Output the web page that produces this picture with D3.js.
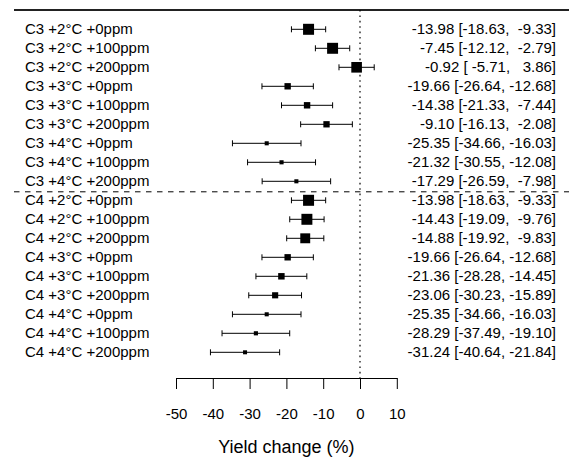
<!DOCTYPE html>
<html>
<head>
<meta charset="utf-8">
<script src="https://cdn.jsdelivr.net/npm/d3@7"></script>
<style>
  html, body { margin: 0; padding: 0; background: #fff; }
  svg { display: block; font-family: "Liberation Sans", Arial, sans-serif; }
  text { white-space: pre; }
</style>
</head>
<body>
<div id="chart"></div>
<script>
const labels = [
  "C3 +2°C +0ppm", "C3 +2°C +100ppm", "C3 +2°C +200ppm",
  "C3 +3°C +0ppm", "C3 +3°C +100ppm", "C3 +3°C +200ppm",
  "C3 +4°C +0ppm", "C3 +4°C +100ppm", "C3 +4°C +200ppm",
  "C4 +2°C +0ppm", "C4 +2°C +100ppm", "C4 +2°C +200ppm",
  "C4 +3°C +0ppm", "C4 +3°C +100ppm", "C4 +3°C +200ppm",
  "C4 +4°C +0ppm", "C4 +4°C +100ppm", "C4 +4°C +200ppm"
];
const estimates = [
  -13.98, -7.45, -0.92, -19.66, -14.38, -9.10, -25.35, -21.32, -17.29,
  -13.98, -14.43, -14.88, -19.66, -21.36, -23.06, -25.35, -28.29, -31.24
];
const lower = [
  -18.63, -12.12, -5.71, -26.64, -21.33, -16.13, -34.66, -30.55, -26.59,
  -18.63, -19.09, -19.92, -26.64, -28.28, -30.23, -34.66, -37.49, -40.64
];
const upper = [
  -9.33, -2.79, 3.86, -12.68, -7.44, -2.08, -16.03, -12.08, -7.98,
  -9.33, -9.76, -9.83, -12.68, -14.45, -15.89, -16.03, -19.10, -21.84
];
const xTicks = [-50, -40, -30, -20, -10, 0, 10];
const xTitle = "Yield change (%)";
const groupBreakAfter = 8; // index of last C3 row

const W = 569, H = 458;
const svg = d3.select("#chart").append("svg").attr("width", W).attr("height", H);

const x = d3.scaleLinear().domain([-50, 10]).range([176, 396.8]);
const y = d3.scalePoint().domain(labels).range([29.3, 352.3]);

const data = labels.map((l, i) => ({ label: l, est: estimates[i], lo: lower[i], hi: upper[i] }));
const prec = data.map(d => 1 / (d.hi - d.lo));
const size = d3.scaleLinear().domain(d3.extent(prec)).range([4, 11]);

const fs = 15;

// top line
svg.append("line").attr("x1", 14).attr("x2", W).attr("y1", 10).attr("y2", 10)
  .attr("stroke", "#222").attr("stroke-width", 2);

// reference line at 0
svg.append("line").attr("x1", x(0)).attr("x2", x(0)).attr("y1", 10).attr("y2", 378)
  .attr("stroke", "#000").attr("stroke-width", 1.2).attr("stroke-dasharray", "1.6,3.8");

// group separator
const ySep = (y(labels[groupBreakAfter]) + y(labels[groupBreakAfter + 1])) / 2 + 1;
svg.append("line").attr("x1", 14).attr("x2", W).attr("y1", ySep).attr("y2", ySep)
  .attr("stroke", "#000").attr("stroke-width", 1).attr("stroke-dasharray", "5.5,5.5");

const rows = svg.append("g").selectAll("g").data(data).join("g")
  .attr("transform", d => `translate(0,${y(d.label)})`);

rows.append("line").attr("x1", d => x(d.lo)).attr("x2", d => x(d.hi))
  .attr("stroke", "#000").attr("stroke-width", 1);
rows.append("line").attr("x1", d => x(d.lo)).attr("x2", d => x(d.lo)).attr("y1", -3).attr("y2", 3)
  .attr("stroke", "#000").attr("stroke-width", 1);
rows.append("line").attr("x1", d => x(d.hi)).attr("x2", d => x(d.hi)).attr("y1", -3).attr("y2", 3)
  .attr("stroke", "#000").attr("stroke-width", 1);
rows.append("rect")
  .attr("x", (d, i) => x(d.est) - size(prec[i]) / 2)
  .attr("y", (d, i) => -size(prec[i]) / 2)
  .attr("width", (d, i) => size(prec[i]))
  .attr("height", (d, i) => size(prec[i]))
  .attr("fill", "#000");

rows.append("text").attr("x", 25).attr("y", -1).attr("dy", "0.35em")
  .attr("font-size", fs).text(d => d.label);

const pad = v => { const s = v.toFixed(2); return " ".repeat(Math.max(0, 6 - s.length)) + s; };
rows.append("text").attr("x", 556).attr("y", -1).attr("dy", "0.35em").attr("text-anchor", "end")
  .attr("font-size", fs)
  .text(d => `${d.est.toFixed(2)} [${pad(d.lo)}, ${pad(d.hi)}]`);

// x axis
const axis = d3.axisBottom(x).tickValues(xTicks).tickSize(11).tickSizeOuter(0)
  .tickPadding(19).tickFormat(d => String(d));
const gx = svg.append("g").attr("transform", "translate(0,378)").call(axis);
gx.selectAll("text").attr("font-size", fs).attr("font-family", "Liberation Sans, Arial, sans-serif").attr("fill", "#000");
gx.selectAll("line, path").attr("stroke", "#000");

svg.append("text").attr("x", (x(-50) + x(10)) / 2).attr("y", 452.5)
  .attr("text-anchor", "middle").attr("font-size", 18).text(xTitle);
</script>
</body>
</html>
